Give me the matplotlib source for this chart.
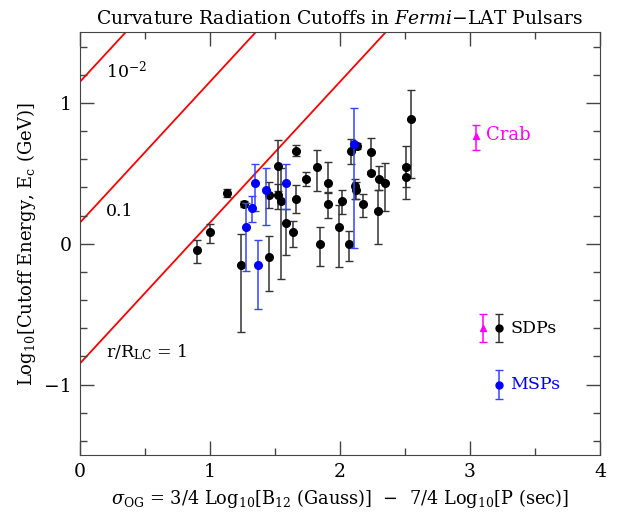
import numpy as np
import matplotlib
matplotlib.use('Agg')
import matplotlib.pyplot as plt
from matplotlib.ticker import MultipleLocator

plt.rcParams['font.family'] = 'DejaVu Serif'
plt.rcParams['mathtext.fontset'] = 'dejavuserif'

# ── Data ────────────────────────────────────────────────────────────────────
# SDPs (black): sigma_OG, log10 Ec, lower err, upper err
sdp_x = [0.90, 1.00, 1.13, 1.264, 1.238, 1.456, 1.454, 1.52, 1.52, 1.545,
         1.585, 1.638, 1.664, 1.664, 1.738, 1.823, 1.85, 1.905, 1.905, 1.99,
         2.013, 2.07, 2.082, 2.128, 2.115, 2.12, 2.174, 2.24, 2.24, 2.30,
         2.295, 2.346, 2.546, 2.508, 2.508]
sdp_y = [-0.045, 0.08, 0.36, 0.28, -0.154, -0.097, 0.345, 0.555, 0.343, 0.30,
         0.147, 0.08, 0.32, 0.66, 0.46, 0.544, 0.0, 0.43, 0.28, 0.116,
         0.30, 0.0, 0.66, 0.695, 0.41, 0.38, 0.28, 0.65, 0.505, 0.46,
         0.23, 0.43, 0.884, 0.544, 0.477]
sdp_lo = [0.09, 0.078, 0.025, 0.02, 0.47, 0.24, 0.09, 0.18, 0.10, 0.55,
          0.23, 0.10, 0.10, 0.04, 0.05, 0.17, 0.16, 0.07, 0.10, 0.28,
          0.09, 0.12, 0.095, 0.02, 0.09, 0.06, 0.09, 0.14, 0.01, 0.08,
          0.23, 0.20, 0.42, 0.14, 0.16]
sdp_hi = [0.073, 0.062, 0.025, 0.02, 0.22, 0.15, 0.09, 0.18, 0.08, 0.24,
          0.10, 0.08, 0.10, 0.04, 0.05, 0.12, 0.116, 0.15, 0.09, 0.16,
          0.08, 0.09, 0.08, 0.02, 0.05, 0.06, 0.075, 0.10, 0.01, 0.09,
          0.15, 0.14, 0.21, 0.15, 0.08]

# MSPs (blue)
msp_x = [1.343, 1.32, 1.274, 1.367, 1.43, 1.582, 2.105]
msp_y = [0.43, 0.253, 0.116, -0.154, 0.38, 0.433, 0.707]
msp_lo = [0.195, 0.10, 0.31, 0.31, 0.25, 0.19, 0.74]
msp_hi = [0.135, 0.083, 0.17, 0.18, 0.157, 0.13, 0.26]

# Crab (magenta)
crab_x = [3.046]
crab_y = [0.766]
crab_lo = [0.10]
crab_hi = [0.078]

# Curvature-radiation limits, slope 1 in these units
line_labels = [r'$10^{-2}$', '0.1', r'r/R$_{\rm LC}$ = 1']
line_offsets = [1.15, 0.15, -0.85]

RED = '#ff0000'
BLUE = '#0000ff'
MAGENTA = '#ff00ff'

fig = plt.figure(figsize=(6.23, 5.15), dpi=100)
ax = fig.add_axes([0.1284, 0.1165, 0.8346, 0.8205])

xs = np.array([0.0, 4.0])
for lab, off in zip(line_labels, line_offsets):
    ax.plot(xs, xs + off, color=RED, lw=1.3, zorder=1)
    ax.text(0.2, off + 0.08, lab, fontsize=12.5, ha='left', va='center')

ax.errorbar(sdp_x, sdp_y, yerr=[sdp_lo, sdp_hi], fmt='o', color='black',
            ecolor='#333333', elinewidth=1.1, capsize=3, markersize=5.5, zorder=3)
ax.errorbar(msp_x, msp_y, yerr=[msp_lo, msp_hi], fmt='o', color=BLUE,
            ecolor='#3344ff', elinewidth=1.1, capsize=3, markersize=5.5, zorder=4)
ax.errorbar(crab_x, crab_y, yerr=[crab_lo, crab_hi], fmt='^', color=MAGENTA,
            ecolor=MAGENTA, elinewidth=1.1, capsize=3, markersize=5, zorder=4)
ax.text(3.12, 0.77, 'Crab', color=MAGENTA, fontsize=13, va='center')

# legend drawn inside the panel
ax.errorbar([3.10], [-0.60], yerr=0.10, fmt='^', color=MAGENTA, ecolor=MAGENTA,
            elinewidth=1.1, capsize=3, markersize=5)
ax.errorbar([3.22], [-0.60], yerr=0.10, fmt='o', color='black', ecolor='#333333',
            elinewidth=1.1, capsize=3, markersize=5)
ax.text(3.31, -0.60, 'SDPs', color='black', fontsize=12.5, va='center')
ax.errorbar([3.22], [-1.00], yerr=0.10, fmt='o', color=BLUE, ecolor='#3344ff',
            elinewidth=1.1, capsize=3, markersize=5)
ax.text(3.31, -1.00, 'MSPs', color=BLUE, fontsize=12.5, va='center')

ax.set_xlim(0, 4)
ax.set_ylim(-1.5, 1.5)
ax.xaxis.set_major_locator(MultipleLocator(1))
ax.xaxis.set_minor_locator(MultipleLocator(0.5))
ax.yaxis.set_major_locator(MultipleLocator(1))
ax.yaxis.set_minor_locator(MultipleLocator(0.2))
ax.tick_params(which='both', direction='in', top=True, right=True,
               color='#444444', labelsize=13.5)
ax.tick_params(which='major', length=10, width=1, pad=6)
ax.tick_params(which='minor', length=5, width=1)
ax.yaxis.set_major_formatter(plt.FuncFormatter(
    lambda v, p: '\u22121' if v == -1 else f'{v:g}'))
for sp in ax.spines.values():
    sp.set_color('#444444')

xlab = (r'$\sigma_{\rm OG}$ = 3/4 Log$_{10}$[B$_{12}$ (Gauss)]  ' + '\u2212'
        + r'  7/4 Log$_{10}$[P (sec)]')
ax.set_xlabel(xlab, fontsize=12.8, labelpad=4)
ax.set_ylabel(r'Log$_{10}$[Cutoff Energy, E$_{\rm c}$ (GeV)]', fontsize=13)
ax.set_title(r'Curvature Radiation Cutoffs in $\it{Fermi}$' + '\u2212LAT Pulsars',
             fontsize=13.5, pad=6)

fig.savefig('out.png', dpi=100)
